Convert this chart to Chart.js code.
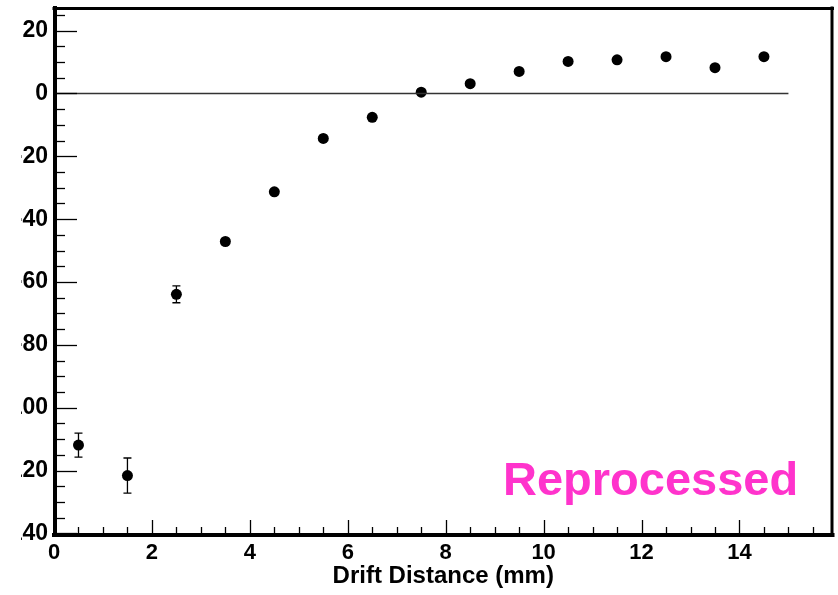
<!DOCTYPE html>
<html><head><meta charset="utf-8">
<script src="https://cdn.jsdelivr.net/npm/chart.js@4.4.0/dist/chart.umd.min.js"></script>
<style>html,body{margin:0;padding:0;background:#fff;overflow:hidden}canvas{display:block;clip-path:inset(0 0 0 21.6px)}</style>
</head><body>
<canvas id="c" width="838" height="595"></canvas>
<script>
// ---- data ----
const driftX = [0.5, 1.5, 2.5, 3.5, 4.5, 5.5, 6.5, 7.5, 8.5, 9.5, 10.5, 11.5, 12.5, 13.5, 14.5];
const residual = [-111.9, -121.6, -63.9, -47.1, -31.3, -14.3, -7.6, 0.4, 3.1, 7.0, 10.2, 10.7, 11.7, 8.2, 11.7];
const residualErr = [3.8, 5.6, 2.7, 1.6, 0.9, 0.9, 0.8, 0.8, 0.8, 0.9, 0.9, 0.9, 1.0, 1.0, 1.5];
const xTickLabels = [0, 2, 4, 6, 8, 10, 12, 14];
const yTickLabels = [20, 0, -20, -40, -60, -80, -100, -120, -140];
const zeroLineX = [0, 15];
const zeroLineY = [0, 0];
const xTitle = 'Drift Distance (mm)';
const annotationText = 'Reprocessed';

const FONT = "'Liberation Sans', Arial, Helvetica, sans-serif";

const points = driftX.map((x, i) => ({ x: x, y: residual[i], err: residualErr[i] }));
const zeroLine = zeroLineX.map((x, i) => ({ x: x, y: zeroLineY[i] }));

const rootStyle = {
  id: 'rootStyle',
  afterDatasetsDraw(chart) {
    const ctx = chart.ctx;
    const ys = chart.scales.y;
    const meta = chart.getDatasetMeta(1);
    ctx.save();
    ctx.strokeStyle = '#000';
    ctx.lineWidth = 1.3;
    meta.data.forEach((el, i) => {
      const p = points[i];
      const yTop = ys.getPixelForValue(p.y + p.err);
      const yBot = ys.getPixelForValue(p.y - p.err);
      const r = 5.5;
      if (yBot - yTop > 2 * r + 2) {
        const x = el.x;
        ctx.beginPath();
        ctx.moveTo(x, yTop); ctx.lineTo(x, yBot);
        ctx.moveTo(x - 4, yTop); ctx.lineTo(x + 4, yTop);
        ctx.moveTo(x - 4, yBot); ctx.lineTo(x + 4, yBot);
        ctx.stroke();
      }
    });
    ctx.restore();
  },
  afterDraw(chart) {
    const ctx = chart.ctx;
    const a = chart.chartArea;
    const xs = chart.scales.x, ys = chart.scales.y;
    ctx.save();
    ctx.strokeStyle = '#000';
    ctx.lineWidth = 1.3;
    for (let v = -140; v <= ys.max; v += 5) {
      const y = Math.round(ys.getPixelForValue(v)) + 0.5;
      const len = (v % 20 === 0) ? 23 : 11;
      ctx.beginPath(); ctx.moveTo(a.left, y); ctx.lineTo(a.left + len, y); ctx.stroke();
    }
    for (let v = 0; v <= xs.max; v += 0.5) {
      const x = Math.round(xs.getPixelForValue(v)) + 0.5;
      const len = (Math.abs(v % 2) < 1e-9) ? 15 : 8;
      ctx.beginPath(); ctx.moveTo(x, a.bottom); ctx.lineTo(x, a.bottom - len); ctx.stroke();
    }
    ctx.lineCap = 'square';
    ctx.lineWidth = 3;
    ctx.beginPath(); ctx.moveTo(a.left, a.top + 0.5); ctx.lineTo(a.right, a.top + 0.5); ctx.stroke();
    ctx.beginPath(); ctx.moveTo(a.right - 0.5, a.top); ctx.lineTo(a.right - 0.5, a.bottom); ctx.stroke();
    ctx.lineWidth = 4;
    ctx.beginPath(); ctx.moveTo(a.left + 1, a.top); ctx.lineTo(a.left + 1, a.bottom); ctx.stroke();
    ctx.beginPath(); ctx.moveTo(a.left, a.bottom); ctx.lineTo(a.right, a.bottom); ctx.stroke();
    ctx.fillStyle = '#ff33cc';
    ctx.font = 'bold 47px ' + FONT;
    ctx.textAlign = 'left';
    ctx.textBaseline = 'alphabetic';
    ctx.fillText(annotationText, a.left + 449, a.bottom - 40);
    ctx.restore();
  }
};

new Chart(document.getElementById('c'), {
  type: 'scatter',
  data: {
    datasets: [
      {
        data: zeroLine, showLine: true, borderColor: '#333', borderWidth: 1.6,
        pointRadius: 0, pointHoverRadius: 0, fill: false
      },
      {
        data: points, backgroundColor: '#000', borderColor: '#000',
        pointRadius: 5.5, pointHoverRadius: 5.5, pointBorderWidth: 0
      }
    ]
  },
  options: {
    responsive: false,
    devicePixelRatio: 1,
    animation: false,
    events: [],
    layout: { padding: { top: 8, right: 5, left: 0, bottom: 0 } },
    plugins: { legend: { display: false }, tooltip: { enabled: false } },
    scales: {
      x: {
        type: 'linear', min: 0, max: 15.9,
        grid: { display: false, drawTicks: false }, border: { display: false },
        afterBuildTicks: s => { s.ticks = xTickLabels.map(v => ({ value: v })); },
        afterFit: s => { s.height = 60; s.paddingLeft = 0; s.paddingRight = 0; },
        ticks: {
          color: '#000', padding: 5, maxRotation: 0, autoSkip: false,
          font: { family: FONT, size: 22, weight: 'bold' },
          callback: v => String(v)
        },
        title: {
          display: true, text: xTitle, color: '#000',
          font: { family: FONT, size: 24, weight: 'bold' },
          padding: { top: 0, bottom: 4 }
        }
      },
      y: {
        type: 'linear', min: -140.5, max: 27.2,
        grid: { display: false, drawTicks: false }, border: { display: false },
        afterBuildTicks: s => { s.ticks = yTickLabels.map(v => ({ value: v })); },
        afterFit: s => { s.width = 54; s.paddingTop = 0; s.paddingBottom = 0; },
        ticks: {
          color: '#000', padding: 6, autoSkip: false,
          font: { family: FONT, size: 23, weight: 'bold' },
          callback: v => String(v)
        }
      }
    }
  },
  plugins: [rootStyle]
});
</script>
</body></html>
